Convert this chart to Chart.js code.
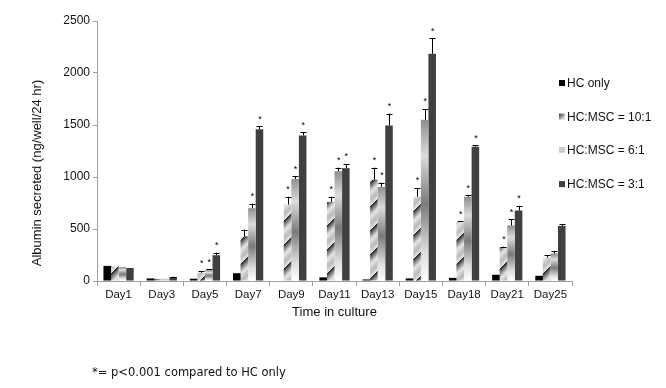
<!DOCTYPE html>
<html><head><meta charset="utf-8">
<script src="https://cdn.jsdelivr.net/npm/chart.js@4/dist/chart.umd.min.js"></script>
<style>html,body{margin:0;padding:0;background:#fff;} #wrap{position:relative;width:666px;height:388px;}</style>
</head><body><div id="wrap"><canvas id="c" width="666" height="388"></canvas></div>
<script>
const categories = ['Day1','Day3','Day5','Day7','Day9','Day11','Day13','Day15','Day18','Day21','Day25'];
const seriesNames = ['HC only','HC:MSC = 10:1','HC:MSC = 6:1','HC:MSC = 3:1'];
const hcOnly   = [145, 25, 22,  75,    5,   35,   15,   25,   30,  60,  50];
const hcErr    = [  0,  0,  0,   0,    0,    0,    0,    0,    0,   0,   0];
const msc10    = [140, 20, 80, 430,  735,  760,  975,  810,  565, 325, 225];
const msc10Err = [  0,  0, 18,  65,   75,   50,  115,   85,   10,   6,  25];
const msc6     = [135, 20,105, 700,  980, 1055,  905, 1550,  810, 535, 265];
const msc6Err  = [  0,  0, 10,  45,   28,   35,   42,  105,   15,  60,  25];
const msc3     = [125, 38,248,1460, 1400, 1085, 1495, 2185, 1292, 678, 530];
const msc3Err  = [  0,  4, 25,  28,   32,   40,  115,  150,   15,  45,  18];
const sig10    = [0,0,1,0,1,1,1,1,1,1,0];
const sig6     = [0,0,1,1,1,1,1,1,1,1,0];
const sig3     = [0,0,1,1,1,1,1,1,1,1,0];
const yMax = 2500, yStep = 500;
const yTitle = 'Albumin secreted (ng/well/24 hr)';
const xTitle = 'Time in culture';
const footnote = '*= p<0.001 compared to HC only';

const errs = [hcErr, msc10Err, msc6Err, msc3Err];
const sigs = [null, sig10, sig6, sig3];

function lerp(a,b,t){return Math.round(a+(b-a)*t);}
function shade(t){
  const stops=[[0,40],[0.12,110],[0.40,230],[0.72,185],[1,235]];
  for(let i=0;i<stops.length-1;i++){
    if(t>=stops[i][0]&&t<=stops[i+1][0]){
      const u=(t-stops[i][0])/(stops[i+1][0]-stops[i][0]);
      return lerp(stops[i][1],stops[i+1][1],u);
    }
  }
  return 200;
}
const P=24;
const pc=document.createElement('canvas'); pc.width=P; pc.height=P;
const pctx=pc.getContext('2d'); const img=pctx.createImageData(P,P);
for(let y=0;y<P;y++)for(let x=0;x<P;x++){
  const t=((x+y)%P)/P; const v=shade(t); const k=(y*P+x)*4;
  img.data[k]=v;img.data[k+1]=v;img.data[k+2]=v;img.data[k+3]=255;
}
pctx.putImageData(img,0,0);
const cv=document.getElementById('c');
const stripe=cv.getContext('2d').createPattern(pc,'repeat');

function grad6(ctx){
  const chart=ctx.chart;
  if(!chart.chartArea||ctx.type!=='data') return '#bbbbbb';
  const ys=chart.scales.y;
  const top=ys.getPixelForValue(ctx.raw), bot=ys.getPixelForValue(0);
  if(!(bot-top>1)) return '#cccccc';
  const g=chart.ctx.createLinearGradient(0,top,0,bot);
  g.addColorStop(0,'#8e8e8e');
  g.addColorStop(0.22,'#dcdcdc');
  g.addColorStop(0.52,'#7a7a7a');
  g.addColorStop(0.82,'#dedede');
  g.addColorStop(1,'#ffffff');
  return g;
}

const extras={
  id:'extras',
  afterDatasetsDraw(chart){
    const c=chart.ctx, ys=chart.scales.y;
    c.save();
    chart.data.datasets.forEach((ds,i)=>{
      const meta=chart.getDatasetMeta(i);
      meta.data.forEach((bar,j)=>{
        const v=ds.data[j], e=errs[i][j];
        let topY=ys.getPixelForValue(v);
        if(e>0){
          const ey=ys.getPixelForValue(v+e);
          c.strokeStyle='#000'; c.lineWidth=1;
          c.beginPath();
          c.moveTo(Math.round(bar.x)+0.5,topY); c.lineTo(Math.round(bar.x)+0.5,ey);
          c.moveTo(Math.round(bar.x)-2.5,Math.round(ey)+0.5); c.lineTo(Math.round(bar.x)+3.5,Math.round(ey)+0.5);
          c.stroke();
          topY=ey;
        }
        if(sigs[i]&&sigs[i][j]){
          c.fillStyle='#000'; c.font='9px "Liberation Sans", Arial';
          c.textAlign='center'; c.textBaseline='middle';
          c.fillText('*',bar.x+0.5,topY-7);
        }
      });
    });
    c.restore();
  },
  afterDraw(chart){
    const c=chart.ctx, a=chart.chartArea;
    c.save();
    const lx=a.right-13, y0=83, dy=33.7;
    chart.data.datasets.forEach((ds,i)=>{
      const cy=y0+i*dy;
      if(i===0){c.fillStyle='#000';c.fillRect(lx,cy-3,6,6);}
      else if(i===1){c.fillStyle=stripe;c.fillRect(lx,cy-3,6,6);}
      else if(i===2){c.fillStyle='#999';for(let k=0;k<3;k++)c.fillRect(lx,cy-3+k*2,6,1);}
      else {c.fillStyle='#404040';c.fillRect(lx,cy-3,6,6);}
      c.fillStyle='#111'; c.font='12px "Liberation Sans", Arial';
      c.textAlign='left'; c.textBaseline='middle';
      c.fillText(ds.label,lx+8,cy+0.5);
    });
    c.font='11.5px "DejaVu Sans", Verdana'; c.fillStyle='#111';
    c.textAlign='left'; c.textBaseline='middle';
    c.fillText(footnote,92,373);
    c.translate(37,173); c.rotate(-Math.PI/2);
    c.font='13px "Liberation Sans", Arial'; c.textAlign='center';
    c.fillText(yTitle,0,0);
    c.restore();
  }
};

new Chart(cv,{
  type:'bar',
  data:{labels:categories,datasets:[
    {label:seriesNames[0],data:hcOnly,backgroundColor:'#000000'},
    {label:seriesNames[1],data:msc10,backgroundColor:stripe},
    {label:seriesNames[2],data:msc6,backgroundColor:grad6},
    {label:seriesNames[3],data:msc3,backgroundColor:'#404040'}
  ]},
  options:{
    responsive:false,animation:false,devicePixelRatio:1,
    layout:{padding:{left:20,top:21,right:94,bottom:60}},
    datasets:{bar:{categoryPercentage:0.7,barPercentage:1.0,borderWidth:0}},
    plugins:{legend:{display:false},tooltip:{enabled:false}},
    scales:{
      x:{
        afterFit(s){s.height=47;},
        grid:{display:true,drawOnChartArea:false,tickLength:5,color:'#a0a0a0',offset:true},
        border:{color:'#a0a0a0'},
        ticks:{font:{family:'"Liberation Sans", Arial',size:11.5},color:'#111',padding:2,maxRotation:0},
        title:{display:true,text:xTitle,font:{family:'"Liberation Sans", Arial',size:13},color:'#111',padding:{top:0,bottom:8}}
      },
      y:{
        min:0,max:yMax,
        afterFit(s){s.width=77;},
        grid:{display:true,drawOnChartArea:false,tickLength:4,color:'#a0a0a0'},
        border:{color:'#a0a0a0'},
        ticks:{stepSize:yStep,callback:(v)=>String(v),font:{family:'"Liberation Sans", Arial',size:12},color:'#111',padding:3},
        title:{display:false}
      }
    }
  },
  plugins:[extras]
});
</script></body></html>
